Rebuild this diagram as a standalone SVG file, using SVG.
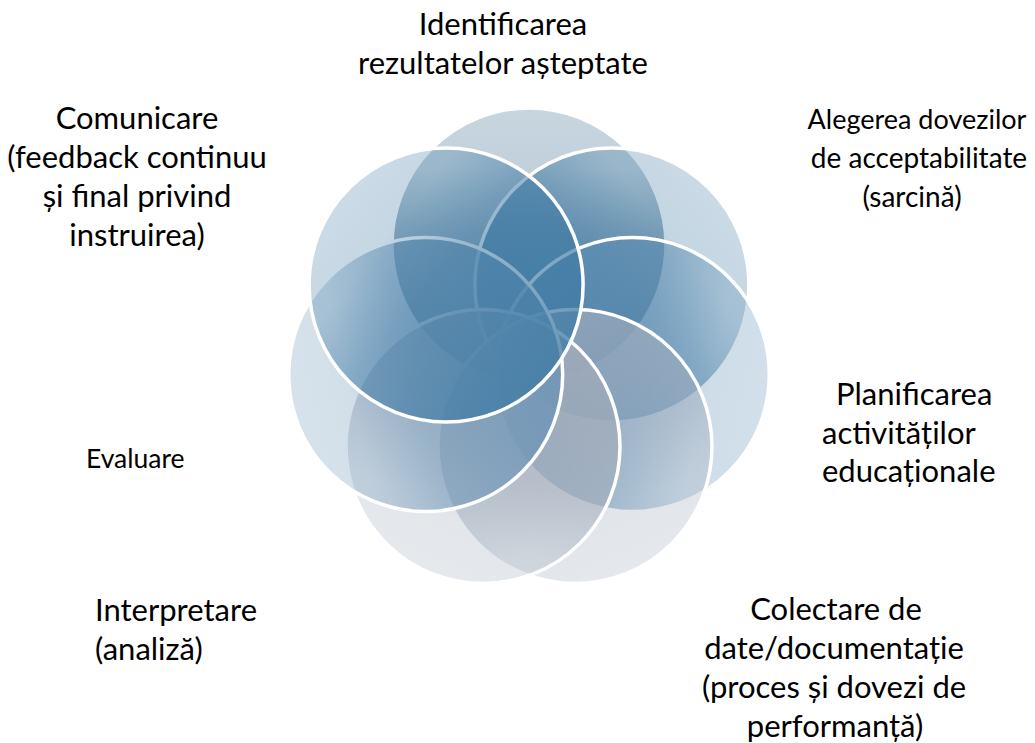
<svg xmlns="http://www.w3.org/2000/svg" width="1035" height="743" viewBox="0 0 1035 743">
<style>
.c{stroke:#ffffff;stroke-width:3.5}
.t{font-family:Lato,"Liberation Sans",sans-serif;font-size:31px;fill:#000000}
.m{text-anchor:middle}
.r{font-size:28px}
.q{font-size:27px}
.s{font-size:26.5px}
</style>
<defs>
<linearGradient id="gA" gradientUnits="userSpaceOnUse" x1="529" y1="108" x2="529" y2="382"><stop offset="0" stop-color="#316588" stop-opacity="0.27"/><stop offset="0.22" stop-color="#316588" stop-opacity="0.3"/><stop offset="0.45" stop-color="#316588" stop-opacity="0.52"/><stop offset="1" stop-color="#316588" stop-opacity="0.78"/></linearGradient>
<linearGradient id="gC" gradientUnits="userSpaceOnUse" x1="719" y1="199.5" x2="504.8" y2="370.3"><stop offset="0" stop-color="#3B77A1" stop-opacity="0.27"/><stop offset="0.22" stop-color="#3B77A1" stop-opacity="0.3"/><stop offset="0.45" stop-color="#3B77A1" stop-opacity="0.52"/><stop offset="1" stop-color="#3B77A1" stop-opacity="0.78"/></linearGradient>
<linearGradient id="gD" gradientUnits="userSpaceOnUse" x1="765.9" y1="405.1" x2="498.7" y2="344.1"><stop offset="0" stop-color="#5B8CB2" stop-opacity="0.27"/><stop offset="0.22" stop-color="#5B8CB2" stop-opacity="0.3"/><stop offset="0.45" stop-color="#5B8CB2" stop-opacity="0.52"/><stop offset="1" stop-color="#5B8CB2" stop-opacity="0.78"/></linearGradient>
<linearGradient id="gE" gradientUnits="userSpaceOnUse" x1="634.4" y1="569.9" x2="515.6" y2="323.1"><stop offset="0" stop-color="#9DABBD" stop-opacity="0.27"/><stop offset="0.22" stop-color="#9DABBD" stop-opacity="0.3"/><stop offset="0.45" stop-color="#9DABBD" stop-opacity="0.52"/><stop offset="1" stop-color="#9DABBD" stop-opacity="0.78"/></linearGradient>
<linearGradient id="gF" gradientUnits="userSpaceOnUse" x1="423.6" y1="569.9" x2="542.4" y2="323.1"><stop offset="0" stop-color="#A1ABB9" stop-opacity="0.27"/><stop offset="0.22" stop-color="#A1ABB9" stop-opacity="0.3"/><stop offset="0.45" stop-color="#A1ABB9" stop-opacity="0.52"/><stop offset="1" stop-color="#A1ABB9" stop-opacity="0.78"/></linearGradient>
<linearGradient id="gG" gradientUnits="userSpaceOnUse" x1="292.1" y1="405.1" x2="559.3" y2="344.1"><stop offset="0" stop-color="#6993B6" stop-opacity="0.27"/><stop offset="0.22" stop-color="#6993B6" stop-opacity="0.3"/><stop offset="0.45" stop-color="#6993B6" stop-opacity="0.52"/><stop offset="1" stop-color="#6993B6" stop-opacity="0.78"/></linearGradient>
<linearGradient id="gB" gradientUnits="userSpaceOnUse" x1="339" y1="199.5" x2="553.2" y2="370.3"><stop offset="0" stop-color="#3F7AA4" stop-opacity="0.27"/><stop offset="0.22" stop-color="#3F7AA4" stop-opacity="0.3"/><stop offset="0.45" stop-color="#3F7AA4" stop-opacity="0.52"/><stop offset="1" stop-color="#3F7AA4" stop-opacity="0.78"/></linearGradient>
</defs>
<rect width="1035" height="743" fill="#ffffff"/>
<g id="node-identificarea">
<circle class="c" cx="529" cy="245" r="137" fill="url(#gA)"/>
<text class="t m" x="503" y="35">Identificarea</text>
<text class="t m" x="503" y="74">rezultatelor așteptate</text>
</g>
<g id="node-alegerea">
<circle class="c" cx="611.9" cy="284.9" r="137" fill="url(#gC)"/>
<text class="t m q" x="917" y="129">Alegerea dovezilor</text>
<text class="t m r" x="919" y="168">de acceptabilitate</text>
<text class="t m r" x="912" y="207">(sarcină)</text>
</g>
<g id="node-planificarea">
<circle class="c" cx="632.3" cy="374.6" r="137" fill="url(#gD)"/>
<text class="t" x="836" y="405">Planificarea</text>
<text class="t" x="822" y="444">activităților</text>
<text class="t" x="822" y="482">educaționale</text>
</g>
<g id="node-colectare">
<circle class="c" cx="575" cy="446.5" r="137" fill="url(#gE)"/>
<text class="t m" x="836" y="620">Colectare de</text>
<text class="t m" x="834" y="659">date/documentație</text>
<text class="t m" x="834" y="698">(proces și dovezi de</text>
<text class="t m" x="835" y="737">performanță)</text>
</g>
<g id="node-interpretare">
<circle class="c" cx="483" cy="446.5" r="137" fill="url(#gF)"/>
<text class="t" x="95" y="621">Interpretare</text>
<text class="t" x="95" y="660">(analiză)</text>
</g>
<g id="node-evaluare">
<circle class="c" cx="425.7" cy="374.6" r="137" fill="url(#gG)"/>
<text class="t s" x="86" y="468">Evaluare</text>
</g>
<g id="node-comunicare">
<circle class="c" cx="446.1" cy="284.9" r="137" fill="url(#gB)"/>
<text class="t m" x="137" y="129">Comunicare</text>
<text class="t m" x="137" y="168">(feedback continuu</text>
<text class="t m" x="137" y="207">și final privind</text>
<text class="t m" x="137" y="246">instruirea)</text>
</g>
</svg>
